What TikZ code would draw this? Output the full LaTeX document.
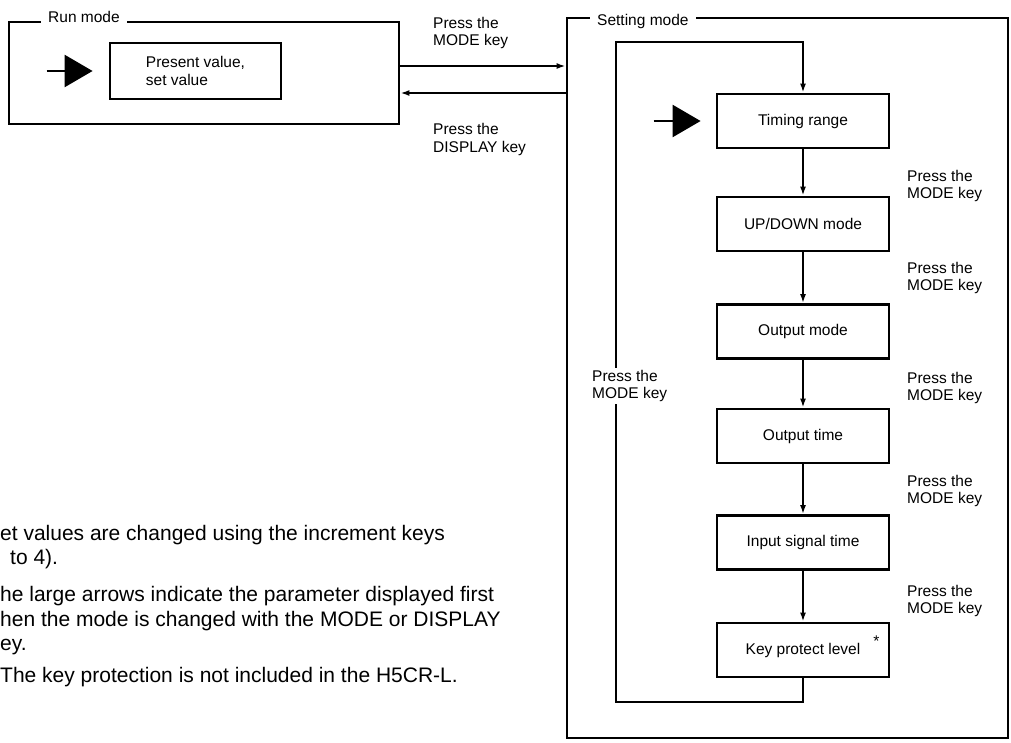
\documentclass[tikz,border=0pt]{standalone}
\usepackage{fontspec}
\setmainfont{Liberation Sans}
\usetikzlibrary{arrows.meta}

\begin{document}
\begin{tikzpicture}[x=1pt,y=-1pt,>={Latex[length=9pt,width=6pt]},
    lab/.style={font=\fontsize{15.5}{17.5}\selectfont},
    keylab/.style={lab,align=left,anchor=west,inner sep=0pt},
    modebox/.style={draw,line width=2.8pt,inner sep=0pt},
    stepbox/.style={draw,line width=2.8pt,minimum width=172pt,minimum height=54pt,lab},
    modetitle/.style={lab,fill=white,anchor=base west,inner xsep=7pt,inner ysep=3pt},
    flow/.style={->,line width=2.4pt},
    bigptr/.style={-{Triangle[length=28pt,width=32pt]},line width=2.4pt},
    note/.style={font=\fontsize{21}{24.5}\selectfont,align=left,anchor=west,inner sep=0pt}]
  \useasboundingbox (0,0) rectangle (1011,742);
  % run mode
  \node [modebox,minimum width=390pt,minimum height=102pt] (run) at (204,73) {};
  \node [modetitle] (runtitle) at (41,22) {Run mode};
  \node [stepbox,minimum width=171pt,minimum height=56pt,align=left] (present) at (195.5,71) {Present value,\\set value};
  \draw [bigptr] ([xshift=-62pt]present.west) -- ([xshift=-16pt]present.west);
  % setting mode
  \node [modebox,minimum width=441pt,minimum height=720pt] (setting) at (787.5,378) {};
  \node [modetitle] (settitle) at (590,25) {Setting mode};
  \foreach \name/\y/\txt in {timing/121/Timing range,updown/224/{UP/DOWN mode},outmode/331.5/Output mode,
      outtime/436/Output time,insignal/542.5/Input signal time,keyprot/650/Key protect level} {
    \node [stepbox] (\name) at (803,\y) {\txt};
  }
  \node [lab] (star) at ([xshift=-14pt,yshift=-20pt]keyprot.north east) {*};
  \draw [bigptr] ([xshift=-62pt]timing.west) -- ([xshift=-15pt]timing.west);
  \foreach \a/\b in {timing/updown,updown/outmode,outmode/outtime,outtime/insignal,insignal/keyprot} {
    \draw [flow] (\a) -- (\b);
  }
  \foreach \y in {186,278,388,491,601} {
    \node [keylab] (mk\y) at (907,\y) {Press the\\MODE key};
  }
  % loop back to the first parameter
  \coordinate (loopbl) at (616,702);
  \coordinate (looptl) at (616,42);
  \draw [flow] (keyprot.south) |- (loopbl) -- (looptl) -| (timing.north);
  \node [keylab,fill=white,inner sep=2pt] (mkloop) at (590,386) {Press the\\MODE key};
  % switching between the modes
  \draw [flow] ([yshift=7pt]run.east) -- ([yshift=7pt]run.east -| setting.west);
  \draw [flow] ([yshift=-20pt]run.east -| setting.west) -- ([yshift=-20pt]run.east);
  \node [keylab] (mkrun) at (433,33) {Press the\\MODE key};
  \node [keylab] (mkdisp) at (433,139.5) {Press the\\DISPLAY key};
  % notes
  \node [note] (note1) at (0,547) {et values are changed using the increment keys\\\hspace*{10pt}to 4).};
  \node [note] (note2) at (0,621) {he large arrows indicate the parameter displayed first\\hen the mode is changed with the MODE or DISPLAY\\ey.};
  \node [note] (note3) at (0,677) {The key protection is not included in the H5CR-L.};
\end{tikzpicture}
\end{document}
